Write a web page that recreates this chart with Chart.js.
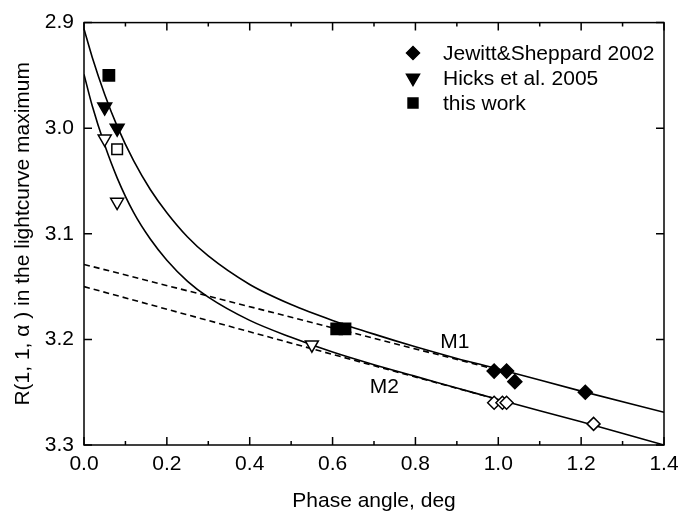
<!DOCTYPE html>
<html><head><meta charset="utf-8">
<script src="https://cdn.jsdelivr.net/npm/chart.js@4.4.0/dist/chart.umd.min.js"></script>
<style>html,body{margin:0;padding:0;background:#fff}</style>
</head><body>
<canvas id="c" width="678" height="518"></canvas>
<script>
// ---- data ----
const curveX   = [0, 0.02, 0.05, 0.08, 0.12, 0.16, 0.2, 0.25, 0.3, 0.4, 0.5, 0.6, 0.7, 0.8, 0.9, 1.0, 1.2, 1.4];
const curveM1  = [2.906, 2.933, 2.968, 2.998, 3.031, 3.058, 3.080, 3.103, 3.121, 3.148, 3.167, 3.182, 3.195, 3.207, 3.218, 3.228, 3.249, 3.269];
const curveM2  = [2.949, 2.979, 3.016, 3.047, 3.080, 3.105, 3.125, 3.145, 3.160, 3.182, 3.198, 3.212, 3.224, 3.235, 3.246, 3.257, 3.278, 3.300];
const lineX    = [0, 1.0];
const lineM1   = [3.129, 3.229];
const lineM2   = [3.150, 3.257];

const jsFilledX = [0.99, 1.02, 1.04, 1.21];
const jsFilledY = [3.23, 3.23, 3.24, 3.25];
const jsOpenX   = [0.99, 1.01, 1.02, 1.23];
const jsOpenY   = [3.26, 3.26, 3.26, 3.28];
const hkFilledX = [0.05, 0.08];
const hkFilledY = [2.98, 3.00];
const hkOpenX   = [0.05, 0.08, 0.55];
const hkOpenY   = [3.01, 3.07, 3.205];
const twFilledX = [0.06, 0.61, 0.63];
const twFilledY = [2.95, 3.19, 3.19];
const twOpenX   = [0.08];
const twOpenY   = [3.02];

const legendLabels = ['Jewitt&Sheppard 2002', 'Hicks et al. 2005', 'this work'];
const curveLabels = [{text: 'M1', x: 0.895, y: 3.203}, {text: 'M2', x: 0.725, y: 3.245}];

const xTickLabels = ['0.0','0.2','0.4','0.6','0.8','1.0','1.2','1.4'];
const yTickLabels = ['2.9','3.0','3.1','3.2','3.3'];

// ---- build ----
const FONT = "'Liberation Sans', Arial, sans-serif";
const pts = (xs, ys) => xs.map((x, i) => ({x, y: ys[i]}));
const pick = (labels, v) => labels.find(l => Math.abs(parseFloat(l) - v) < 1e-6) || '';

function lineDs(xs, ys, dash) {
  return {type: 'line', data: pts(xs, ys), borderColor: '#000', borderWidth: 1.6,
    borderDash: dash ? [6, 4] : [], pointRadius: 0, fill: false,
    cubicInterpolationMode: 'monotone', order: 2};
}
function ptDs(xs, ys, style, filled, r, rot) {
  return {type: 'scatter', data: pts(xs, ys), pointStyle: style, pointRadius: r,
    pointRotation: rot || 0, pointBackgroundColor: filled ? '#000' : '#fff',
    pointBorderColor: '#000', pointBorderWidth: 1.5, showLine: false, order: 1};
}

const framePlugin = {
  id: 'frame',
  afterDraw(chart) {
    const {ctx, chartArea: a, scales: {x, y}} = chart;
    ctx.save();
    ctx.strokeStyle = '#000';
    ctx.lineWidth = 1.5;
    ctx.strokeRect(a.left, a.top, a.right - a.left, a.bottom - a.top);
    ctx.beginPath();
    const xt = x.ticks.map(t => t.value);
    xt.forEach((v, i) => {
      const px = x.getPixelForValue(v);
      ctx.moveTo(px, a.bottom); ctx.lineTo(px, a.bottom - 8);
      ctx.moveTo(px, a.top); ctx.lineTo(px, a.top + 8);
      if (i < xt.length - 1) {
        const mx = x.getPixelForValue((v + xt[i + 1]) / 2);
        ctx.moveTo(mx, a.bottom); ctx.lineTo(mx, a.bottom - 4);
        ctx.moveTo(mx, a.top); ctx.lineTo(mx, a.top + 4);
      }
    });
    y.ticks.forEach(t => {
      const py = y.getPixelForValue(t.value);
      ctx.moveTo(a.left, py); ctx.lineTo(a.left + 8, py);
      ctx.moveTo(a.right, py); ctx.lineTo(a.right - 8, py);
    });
    ctx.stroke();

    // legend
    ctx.fillStyle = '#000';
    ctx.font = '21px ' + FONT;
    ctx.textBaseline = 'middle';
    ctx.textAlign = 'left';
    const lx = 413, tx = 443, rows = [53, 78, 103];
    const styles = [['rectRot', 6.5, 0], ['triangle', 7.5, 180], ['rect', 7, 0]];
    legendLabels.forEach((lab, i) => {
      Chart.helpers.drawPoint(ctx, {pointStyle: styles[i][0], radius: styles[i][1], rotation: styles[i][2], borderWidth: 1}, lx, rows[i]);
      ctx.fillStyle = '#000';
      ctx.fill();
      ctx.fillText(lab, tx, rows[i] + 1);
    });

    // curve labels
    ctx.font = '21px ' + FONT;
    ctx.textAlign = 'center';
    curveLabels.forEach(c => {
      ctx.fillText(c.text, x.getPixelForValue(c.x), y.getPixelForValue(c.y));
    });
    ctx.restore();
  }
};

new Chart(document.getElementById('c'), {
  data: {
    datasets: [
      lineDs(curveX, curveM1, false),
      lineDs(curveX, curveM2, false),
      lineDs(lineX, lineM1, true),
      lineDs(lineX, lineM2, true),
      ptDs(jsFilledX, jsFilledY, 'rectRot', true, 7),
      ptDs(jsOpenX, jsOpenY, 'rectRot', false, 6.5),
      ptDs(hkFilledX, hkFilledY, 'triangle', true, 8, 180),
      ptDs(hkOpenX, hkOpenY, 'triangle', false, 7.5, 180),
      ptDs(twFilledX, twFilledY, 'rect', true, 8),
      ptDs(twOpenX, twOpenY, 'rect', false, 7.5)
    ]
  },
  options: {
    responsive: false,
    animation: false,
    layout: {padding: {left: 0, right: 14, top: 18, bottom: 0}},
    plugins: {legend: {display: false}, tooltip: {enabled: false}},
    scales: {
      x: {
        type: 'linear', min: 0, max: 1.4,
        afterFit(s) { s.height = 73; s.paddingRight = 0; },
        ticks: {stepSize: 0.2, color: '#000', font: {family: FONT, size: 21}, padding: 7,
          maxRotation: 0, callback: v => pick(xTickLabels, v)},
        grid: {display: false, drawTicks: false},
        border: {display: false},
        title: {display: true, text: 'Phase angle, deg', color: '#000', font: {family: FONT, size: 21}, padding: {top: 6}}
      },
      y: {
        type: 'linear', min: 2.9, max: 3.3, reverse: true,
        afterFit(s) { s.width = 84; },
        ticks: {stepSize: 0.1, color: '#000', font: {family: FONT, size: 21}, padding: 10,
          callback: v => pick(yTickLabels, v)},
        grid: {display: false, drawTicks: false},
        border: {display: false},
        title: {display: true, text: 'R(1, 1, \u03B1 ) in the lightcurve maximum', color: '#000', font: {family: FONT, size: 21}, padding: {top: 11, bottom: 0}}
      }
    }
  },
  plugins: [framePlugin]
});
</script>
</body></html>
